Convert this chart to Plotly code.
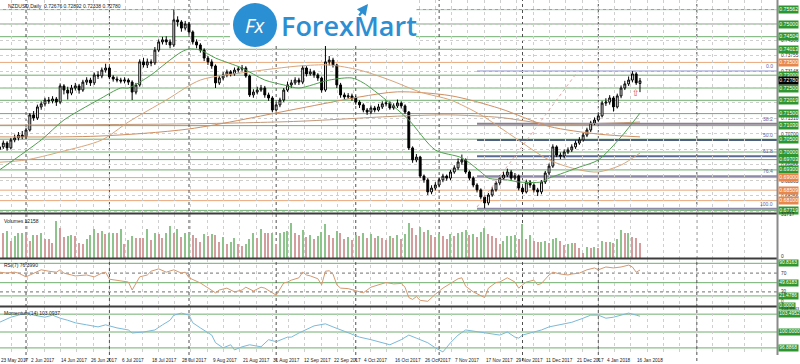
import plotly.graph_objects as go
from plotly.subplots import make_subplots

# ---------------- data ----------------
bar_idx = list(range(170))

opens = [0.7010, 0.7020, 0.7035, 0.7016, 0.7047, 0.7055, 0.7066, 0.7059, 0.7086, 0.7145,
         0.7133, 0.7176, 0.7188, 0.7203, 0.7199, 0.7207, 0.7195, 0.7258, 0.7242, 0.7230,
         0.7250, 0.7258, 0.7242, 0.7273, 0.7281, 0.7270, 0.7301, 0.7297, 0.7320, 0.7328,
         0.7293, 0.7285, 0.7281, 0.7277, 0.7281, 0.7273, 0.7234, 0.7262, 0.7352, 0.7340,
         0.7352, 0.7348, 0.7398, 0.7430, 0.7438, 0.7430, 0.7418, 0.7516, 0.7508, 0.7484,
         0.7500, 0.7469, 0.7430, 0.7418, 0.7398, 0.7367, 0.7352, 0.7336, 0.7270, 0.7289,
         0.7301, 0.7313, 0.7305, 0.7320, 0.7324, 0.7328, 0.7297, 0.7223, 0.7234, 0.7242,
         0.7250, 0.7223, 0.7211, 0.7164, 0.7184, 0.7203, 0.7242, 0.7262, 0.7270, 0.7281,
         0.7273, 0.7328, 0.7305, 0.7313, 0.7301, 0.7289, 0.7242, 0.7352, 0.7359, 0.7340,
         0.7262, 0.7223, 0.7215, 0.7219, 0.7211, 0.7195, 0.7184, 0.7164, 0.7156, 0.7172,
         0.7164, 0.7176, 0.7188, 0.7191, 0.7172, 0.7180, 0.7191, 0.7180, 0.7156, 0.7016,
         0.6969, 0.6980, 0.6906, 0.6891, 0.6844, 0.6859, 0.6871, 0.6891, 0.6906, 0.6898,
         0.6922, 0.6938, 0.6961, 0.6969, 0.6922, 0.6898, 0.6871, 0.6852, 0.6824, 0.6801,
         0.6832, 0.6852, 0.6879, 0.6898, 0.6910, 0.6922, 0.6898, 0.6906, 0.6859, 0.6844,
         0.6883, 0.6871, 0.6852, 0.6844, 0.6883, 0.6918, 0.6945, 0.7020, 0.6988, 0.6984,
         0.7000, 0.7008, 0.7020, 0.7035, 0.7047, 0.7066, 0.7086, 0.7113, 0.7125, 0.7141,
         0.7191, 0.7195, 0.7211, 0.7176, 0.7219, 0.7250, 0.7266, 0.7281, 0.7305, 0.72676]

closes = [0.7020, 0.7035, 0.7016, 0.7047, 0.7055, 0.7066, 0.7059, 0.7086, 0.7145, 0.7133,
          0.7176, 0.7188, 0.7203, 0.7199, 0.7207, 0.7195, 0.7258, 0.7242, 0.7230, 0.7250,
          0.7258, 0.7242, 0.7273, 0.7281, 0.7270, 0.7301, 0.7297, 0.7320, 0.7328, 0.7293,
          0.7285, 0.7281, 0.7277, 0.7281, 0.7273, 0.7234, 0.7262, 0.7352, 0.7340, 0.7352,
          0.7348, 0.7398, 0.7430, 0.7438, 0.7430, 0.7418, 0.7516, 0.7508, 0.7484, 0.7500,
          0.7469, 0.7430, 0.7418, 0.7398, 0.7367, 0.7352, 0.7336, 0.7270, 0.7289, 0.7301,
          0.7313, 0.7305, 0.7320, 0.7324, 0.7328, 0.7297, 0.7223, 0.7234, 0.7242, 0.7250,
          0.7223, 0.7211, 0.7164, 0.7184, 0.7203, 0.7242, 0.7262, 0.7270, 0.7281, 0.7273,
          0.7328, 0.7305, 0.7313, 0.7301, 0.7289, 0.7242, 0.7352, 0.7359, 0.7340, 0.7262,
          0.7223, 0.7215, 0.7219, 0.7211, 0.7195, 0.7184, 0.7164, 0.7156, 0.7172, 0.7164,
          0.7176, 0.7188, 0.7191, 0.7172, 0.7180, 0.7191, 0.7180, 0.7156, 0.7016, 0.6969,
          0.6980, 0.6906, 0.6891, 0.6844, 0.6859, 0.6871, 0.6891, 0.6906, 0.6898, 0.6922,
          0.6938, 0.6961, 0.6969, 0.6922, 0.6898, 0.6871, 0.6852, 0.6824, 0.6801, 0.6832,
          0.6852, 0.6879, 0.6898, 0.6910, 0.6922, 0.6898, 0.6906, 0.6859, 0.6844, 0.6883,
          0.6871, 0.6852, 0.6844, 0.6883, 0.6918, 0.6945, 0.7020, 0.6988, 0.6984, 0.7000,
          0.7008, 0.7020, 0.7035, 0.7047, 0.7066, 0.7086, 0.7113, 0.7125, 0.7141, 0.7191,
          0.7195, 0.7211, 0.7176, 0.7219, 0.7250, 0.7266, 0.7281, 0.7305, 0.7270, 0.72780]

highs = [0.7032, 0.7045, 0.7042, 0.7055, 0.7068, 0.7078, 0.7082, 0.7095, 0.7152, 0.7160,
         0.7185, 0.7198, 0.7212, 0.7215, 0.7218, 0.7215, 0.7268, 0.7265, 0.7255, 0.7262,
         0.7270, 0.7266, 0.7282, 0.7292, 0.7290, 0.7310, 0.7315, 0.7330, 0.7345, 0.7335,
         0.7300, 0.7295, 0.7290, 0.7292, 0.7288, 0.7280, 0.7270, 0.7362, 0.7368, 0.7365,
         0.7362, 0.7410, 0.7440, 0.7450, 0.7452, 0.7440, 0.7556, 0.7530, 0.7515, 0.7512,
         0.7508, 0.7475, 0.7440, 0.7425, 0.7405, 0.7375, 0.7362, 0.7342, 0.7298, 0.7312,
         0.7322, 0.7320, 0.7330, 0.7336, 0.7340, 0.7335, 0.7302, 0.7245, 0.7255, 0.7262,
         0.7258, 0.7232, 0.7218, 0.7195, 0.7212, 0.7250, 0.7275, 0.7282, 0.7292, 0.7290,
         0.7338, 0.7335, 0.7325, 0.7320, 0.7308, 0.7295, 0.7434, 0.7375, 0.7368, 0.7345,
         0.7270, 0.7232, 0.7230, 0.7228, 0.7220, 0.7202, 0.7190, 0.7172, 0.7182, 0.7180,
         0.7188, 0.7198, 0.7202, 0.7198, 0.7190, 0.7205, 0.7198, 0.7186, 0.7160, 0.7022,
         0.6992, 0.6985, 0.6912, 0.6898, 0.6870, 0.6882, 0.6900, 0.6915, 0.6912, 0.6930,
         0.6948, 0.6975, 0.6990, 0.6975, 0.6928, 0.6905, 0.6878, 0.6858, 0.6830, 0.6840,
         0.6862, 0.6888, 0.6908, 0.6922, 0.6935, 0.6930, 0.6918, 0.6912, 0.6866, 0.6892,
         0.6890, 0.6878, 0.6860, 0.6890, 0.6926, 0.6955, 0.7030, 0.7026, 0.6998, 0.7010,
         0.7018, 0.7030, 0.7045, 0.7058, 0.7075, 0.7095, 0.7122, 0.7135, 0.7150, 0.7200,
         0.7210, 0.7222, 0.7218, 0.7228, 0.7260, 0.7278, 0.7295, 0.7316, 0.7312, 0.72892]

lows = [0.7000, 0.7012, 0.7005, 0.7010, 0.7038, 0.7045, 0.7050, 0.7052, 0.7080, 0.7122,
        0.7125, 0.7165, 0.7178, 0.7188, 0.7190, 0.7180, 0.7188, 0.7225, 0.7205, 0.7222,
        0.7240, 0.7228, 0.7235, 0.7262, 0.7258, 0.7262, 0.7285, 0.7288, 0.7310, 0.7285,
        0.7275, 0.7272, 0.7268, 0.7268, 0.7262, 0.7203, 0.7225, 0.7255, 0.7330, 0.7328,
        0.7335, 0.7340, 0.7390, 0.7420, 0.7418, 0.7405, 0.7410, 0.7490, 0.7470, 0.7475,
        0.7460, 0.7420, 0.7405, 0.7388, 0.7355, 0.7340, 0.7325, 0.7250, 0.7262, 0.7280,
        0.7292, 0.7295, 0.7298, 0.7310, 0.7315, 0.7290, 0.7215, 0.7212, 0.7225, 0.7235,
        0.7212, 0.7200, 0.7155, 0.7158, 0.7175, 0.7195, 0.7235, 0.7250, 0.7262, 0.7262,
        0.7265, 0.7295, 0.7298, 0.7290, 0.7278, 0.7232, 0.7235, 0.7338, 0.7330, 0.7250,
        0.7212, 0.7205, 0.7208, 0.7200, 0.7185, 0.7172, 0.7155, 0.7145, 0.7148, 0.7155,
        0.7158, 0.7168, 0.7178, 0.7165, 0.7165, 0.7172, 0.7170, 0.7148, 0.7008, 0.6958,
        0.6960, 0.6898, 0.6880, 0.6832, 0.6835, 0.6850, 0.6862, 0.6882, 0.6888, 0.6890,
        0.6915, 0.6930, 0.6950, 0.6915, 0.6890, 0.6862, 0.6842, 0.6815, 0.6780, 0.6792,
        0.6825, 0.6845, 0.6870, 0.6890, 0.6902, 0.6888, 0.6890, 0.6850, 0.6835, 0.6838,
        0.6860, 0.6842, 0.6828, 0.6835, 0.6875, 0.6910, 0.6938, 0.6980, 0.6972, 0.6975,
        0.6992, 0.7000, 0.7012, 0.7028, 0.7040, 0.7058, 0.7078, 0.7105, 0.7118, 0.7135,
        0.7180, 0.7185, 0.7158, 0.7170, 0.7210, 0.7242, 0.7258, 0.7272, 0.7262, 0.72338]

volumes = [21150, 18690, 19920, 12540, 16230, 18200, 18690, 16720, 12540, 16720,
           16720, 18690, 14260, 13770, 11310, 27290, 22370, 15490, 16230, 16720,
           16230, 11310, 10080, 13770, 16720, 21150, 18690, 19920, 17460, 18200,
           18300, 18100, 21150, 10570, 13030, 16230, 15100, 15000, 14900, 21150,
           13280, 18690, 17460, 14510, 18200, 23600, 18100, 21150, 15490, 18200,
           18300, 16720, 14510, 12050, 17460, 16230, 17460, 17300, 12050, 15740,
           10080, 12050, 15000, 10080, 8850, 10080, 13770, 18690, 15000, 21150,
           18690, 18600, 18700, 10080, 18200, 19180, 19920, 26060, 18690, 17000,
           21000, 15500, 17000, 14000, 16500, 19000, 25000, 17000, 15000, 20000,
           18500, 14000, 15500, 13500, 17000, 16000, 18500, 15000, 17500, 14500,
           16000, 15000, 13000, 16500, 15000, 17000, 14000, 18000, 26000, 22000,
           17000, 23000, 19000, 21000, 17000, 15500, 18000, 16500, 14000, 17500,
           16000, 18500, 19500, 21000, 17000, 18000, 15500, 19000, 22000, 18000,
           16000, 14500, 10080, 12540, 16230, 16300, 16720, 14000, 24840, 13770,
           16720, 12540, 12050, 12100, 12540, 11310, 13770, 15000, 12540, 9340,
           10570, 11310, 10820, 7620, 3930, 8360, 7620, 8360, 7620, 12540,
           12050, 12100, 11310, 13770, 20420, 18200, 18690, 15490, 15000, 11310]

ma_fast_x = [0, 11, 17, 26, 32, 34, 40, 44, 48, 50, 53, 57, 64, 70, 75, 79, 87, 93, 96,
             102, 108, 115, 122, 127, 129, 134, 137, 143, 145, 148, 153, 158, 164, 169]
ma_fast_v = [0.6930, 0.7047, 0.7125, 0.7203, 0.7250, 0.7250, 0.7301, 0.7348, 0.7391, 0.7402,
             0.7398, 0.7367, 0.7328, 0.7281, 0.7262, 0.7250, 0.7281, 0.7289, 0.7270,
             0.7203, 0.7125, 0.7008, 0.6977, 0.6922, 0.6898, 0.6891, 0.6883, 0.6883, 0.6898,
             0.6914, 0.6941, 0.6969, 0.7059, 0.7152]

ma_mid_x = [0, 7, 16, 27, 34, 44, 53, 66, 79, 87, 95, 103, 111, 119, 127, 135, 145, 153, 158, 164, 169]
ma_mid_v = [0.6960, 0.6969, 0.7000, 0.7047, 0.7117, 0.7203, 0.7281, 0.7313, 0.7336, 0.7340,
            0.7320, 0.7281, 0.7234, 0.7203, 0.7145, 0.7066, 0.6969, 0.6930, 0.6922, 0.6949, 0.6996]

ma_slow_x = [0, 26, 50, 79, 95, 105, 119, 132, 145, 158, 169]
ma_slow_v = [0.7059, 0.7062, 0.7090, 0.7170, 0.7215, 0.7235, 0.7220, 0.7170, 0.7100, 0.7070, 0.7059]

ma_long_x = [0, 50, 79, 105, 119, 132, 145, 169]
ma_long_v = [0.7105, 0.7110, 0.7120, 0.7140, 0.7145, 0.7135, 0.7110, 0.7117]

rsi_x = [0, 2, 4, 5, 7, 9, 11, 13, 15, 16, 17, 19, 20, 23, 25, 27, 28, 29, 32, 34, 35, 36, 37, 39,
         40, 42, 44, 46, 48, 49, 50, 53, 55, 57, 58, 60, 62, 64, 65, 67, 69, 70, 72, 73, 75, 76, 77,
         79, 80, 81, 82, 84, 85, 86, 87, 88, 89, 90, 92, 94, 96, 98, 100, 102, 104, 106, 107, 108,
         109, 110, 111, 113, 115, 117, 119, 121, 122, 123, 125, 127, 128, 129, 131, 132, 134, 136,
         137, 138, 139, 141, 142, 143, 145, 146, 148, 150, 151, 153, 155, 157, 158, 160, 162, 164,
         166, 167, 168, 169]
rsi_v = [72, 70, 72, 70, 62, 70, 77, 74, 72, 77, 70, 66, 64, 66, 62, 70, 72, 57, 53, 51, 34, 49, 62, 66,
         74, 79, 72, 77, 70, 72, 60, 49, 38, 28, 34, 38, 30, 34, 40, 32, 40, 38, 28, 23, 49, 51, 55,
         60, 72, 66, 64, 58, 45, 74, 75, 68, 45, 38, 37, 33, 28, 40, 45, 50, 47, 48, 40, 18,
         14, 20, 12, 10, 25, 38, 48, 58, 60, 42, 30, 22, 18, 38, 50, 51, 60, 51,
         38, 45, 51, 55, 45, 48, 66, 72, 68, 66, 68, 70, 77, 81, 77, 83, 81, 83,
         87, 83, 72, 76.399]

mom_x = [0, 3, 5, 7, 9, 12, 14, 16, 18, 20, 23, 26, 28, 31, 34, 35, 38, 41, 43, 45, 46, 48, 50, 51,
         53, 56, 57, 59, 61, 62, 64, 66, 69, 71, 73, 76, 77, 79, 83, 86, 88, 92, 95, 98, 101, 103,
         106, 108, 110, 113, 115, 117, 119, 121, 123, 128, 132, 134, 136, 137, 138, 140, 143, 145,
         148, 150, 151, 154, 156, 158, 160, 162, 164, 166, 168, 169]
mom_v = [101.9, 102.9, 103.3, 103.7, 103.3, 102.9, 103.3, 102.7, 102.3, 101.8, 101.4, 101.0, 101.4,
         100.8, 100.4, 99.8, 100.0, 100.4, 101.4, 102.3, 103.3, 103.7, 103.3, 101.8, 100.8, 99.4,
         97.9, 96.9, 97.5, 96.5, 97.1, 97.5, 97.1, 98.5, 98.1, 99.0, 99.0, 99.8, 101.2, 101.6, 101.0,
         99.8, 99.0, 98.5, 97.9, 97.5, 98.5, 99.4, 98.8, 97.9, 96.9, 96.1, 97.9, 99.4, 100.4, 99.8,
         99.4, 100.0, 99.0, 98.8, 99.4, 99.8, 100.4, 101.0, 101.4, 101.8, 101.9, 102.7, 103.3, 103.3,
         102.7, 102.9, 103.3, 103.7, 103.3, 103.0937]

trend_x = [126, 152.5]
trend_v = [0.6785, 0.7313]

fib_high = 0.7316
fib_low = 0.6778
fib_levels = [0.0, 38.2, 50.0, 61.8, 76.4, 100.0]
fib_start = 126

green_levels = [0.75562, 0.75000, 0.74504, 0.74013, 0.73000, 0.72500, 0.72019, 0.71500,
                0.71030, 0.70500, 0.70000, 0.69703, 0.69300, 0.67719]
orange_levels = [0.73500, 0.69000, 0.68509, 0.68100]
price_texts = [0.74366, 0.73755, 0.73148, 0.71310, 0.70700, 0.69455, 0.68865, 0.68256]
price_grid = [0.75579, 0.74971, 0.74363, 0.73755, 0.73147, 0.72539, 0.71931, 0.71323,
              0.70715, 0.70107, 0.69499, 0.68891, 0.68283, 0.67675]
current_price = 0.72780

rsi_green = [90.8163, 49.6183, 21.4786]
rsi_dotted = [70, 30]
mom_green = [103.4952, 100.0, 96.8868]

separators = [7, 29, 50, 73, 94, 116, 138, 158, 184]
date_idx = [0, 8, 16, 24, 32, 40, 48, 56, 64, 72, 80, 88, 96, 104, 112, 120, 128, 136, 144, 152, 160, 168]
date_text = ["23 May 2017", "2 Jun 2017", "14 Jun 2017", "26 Jun 2017", "6 Jul 2017", "18 Jul 2017",
             "28 Jul 2017", "9 Aug 2017", "21 Aug 2017", "31 Aug 2017", "12 Sep 2017", "22 Sep 2017",
             "4 Oct 2017", "16 Oct 2017", "26 Oct 2017", "7 Nov 2017", "17 Nov 2017", "29 Nov 2017",
             "11 Dec 2017", "21 Dec 2017", "4 Jan 2018", "16 Jan 2018"]

# ---------------- layout geometry ----------------
W, H = 800, 364
MR, MB = 23, 9
PW, PH = W - MR, H - MB


def pxx(px):
    return px / PW


def pxy(py):
    return (PH - py) / PH


X_RANGE = [0.132, 205.15]
GREEN = "#6fae6f"
ORANGE = "#e8a77a"
BOX_GREEN = "#2f962f"
BOX_ORANGE = "#e8874c"
FONT = "Liberation Sans"

fig = make_subplots(rows=4, cols=1, shared_xaxes=True, vertical_spacing=0)

fig.add_trace(go.Candlestick(
    x=bar_idx, open=opens, high=highs, low=lows, close=closes,
    increasing=dict(line=dict(color="#000000", width=1), fillcolor="#ffffff"),
    decreasing=dict(line=dict(color="#000000", width=1), fillcolor="#000000"),
    whiskerwidth=0, hoverinfo="skip", showlegend=False), row=1, col=1)

for xs, vs, col in [(ma_long_x, ma_long_v, "#c39a7a"), (ma_slow_x, ma_slow_v, "#cf8f62"),
                    (ma_mid_x, ma_mid_v, "#d9a57a"), (ma_fast_x, ma_fast_v, "#4f9f4f")]:
    fig.add_trace(go.Scatter(x=xs, y=vs, mode="lines", line=dict(color=col, width=1, shape="spline", smoothing=0.8),
                             hoverinfo="skip", showlegend=False), row=1, col=1)

fig.add_trace(go.Scatter(x=trend_x, y=trend_v, mode="lines", line=dict(color="#e2a4a4", width=1, dash="dot"),
                         hoverinfo="skip", showlegend=False), row=1, col=1)

vol_colors = ["#8cc48c"] + ["#8cc48c" if volumes[i] > volumes[i - 1] else "#d49c9c" for i in range(1, len(volumes))]
fig.add_trace(go.Bar(x=bar_idx, y=volumes, marker=dict(color=vol_colors, line=dict(width=0)), width=0.35,
                     hoverinfo="skip", showlegend=False), row=2, col=1)

fig.add_trace(go.Scatter(x=rsi_x, y=rsi_v, mode="lines", line=dict(color="#d39a72", width=1),
                         hoverinfo="skip", showlegend=False), row=3, col=1)
fig.add_trace(go.Scatter(x=mom_x, y=mom_v, mode="lines", line=dict(color="#7cb9d8", width=1),
                         hoverinfo="skip", showlegend=False), row=4, col=1)

shapes = []
for lv in green_levels:
    shapes.append(dict(type="line", xref="paper", yref="y", x0=0, x1=1, y0=lv, y1=lv,
                       line=dict(color=GREEN, width=1), layer="below"))
for lv in orange_levels:
    shapes.append(dict(type="line", xref="paper", yref="y", x0=0, x1=1, y0=lv, y1=lv,
                       line=dict(color=ORANGE, width=1), layer="below"))
fib_cols = {0.0: "#6f78c0", 38.2: "#8a8090", 50.0: "#4f5f80", 61.8: "#5a6a90", 76.4: "#8c8aa8", 100.0: "#8c8aa8"}
for f in fib_levels:
    lv = fib_high - (fib_high - fib_low) * f / 100.0
    shapes.append(dict(type="line", xref="x", yref="y", x0=fib_start, x1=X_RANGE[1], y0=lv, y1=lv,
                       line=dict(color=fib_cols[f], width=1 if f == 0.0 else 2), layer="below"))
for lv in rsi_green:
    shapes.append(dict(type="line", xref="paper", yref="y3", x0=0, x1=1, y0=lv, y1=lv,
                       line=dict(color=GREEN, width=1), layer="below"))
for lv in rsi_dotted:
    shapes.append(dict(type="line", xref="paper", yref="y3", x0=0, x1=1, y0=lv, y1=lv,
                       line=dict(color="#707070", width=1, dash="dot"), layer="below"))
for lv in mom_green:
    shapes.append(dict(type="line", xref="paper", yref="y4", x0=0, x1=1, y0=lv, y1=lv,
                       line=dict(color=GREEN, width=1), layer="below"))
for s in separators:
    shapes.append(dict(type="line", xref="x", yref="paper", x0=s, x1=s, y0=pxy(361), y1=1,
                       line=dict(color="#505050", width=1, dash="dot"), layer="below"))
for py in [213.5, 258.5, 306.5]:
    shapes.append(dict(type="line", xref="paper", yref="paper", x0=0, x1=1, y0=pxy(py), y1=pxy(py),
                       line=dict(color="#3c3c3c", width=2)))
shapes.append(dict(type="line", xref="paper", yref="paper", x0=pxx(777.5), x1=pxx(777.5), y0=0, y1=1,
                   line=dict(color="#8a8a8a", width=2)))
shapes.append(dict(type="rect", xref="paper", yref="paper", x0=pxx(230), x1=pxx(416), y0=pxy(46), y1=1,
                   fillcolor="white", line=dict(width=0)))
shapes.append(dict(type="circle", xref="paper", yref="paper", x0=pxx(233), x1=pxx(277), y0=pxy(47), y1=pxy(3),
                   fillcolor="#2b8fd4", line=dict(width=0)))

ann = []
small = dict(family=FONT, size=5, color="#202020")


def box(yref, val, text, bg, fg="white", size=5.2):
    ann.append(dict(xref="paper", yref=yref, x=1, y=val, xanchor="left", yanchor="middle", xshift=0.5,
                    text=text, showarrow=False, bgcolor=bg, borderpad=0.3,
                    font=dict(family=FONT, size=size, color=fg)))


def plain(yref, val, text, size=4.8):
    ann.append(dict(xref="paper", yref=yref, x=1, y=val, xanchor="left", yanchor="middle", xshift=1.5,
                    text=text, showarrow=False, font=dict(family=FONT, size=size, color="#303030")))


for lv in price_texts:
    plain("y", lv, "%.5f" % lv)
for lv in green_levels:
    box("y", lv, "%.5f" % lv, BOX_GREEN)
for lv in orange_levels:
    box("y", lv, "%.5f" % lv, BOX_ORANGE)
box("y", current_price, "%.5f" % current_price, "#000000")

for f in fib_levels:
    lv = fib_high - (fib_high - fib_low) * f / 100.0
    ann.append(dict(xref="paper", yref="y", x=1, y=lv, xanchor="right", yanchor="bottom", xshift=-2,
                    text="%.1f" % f, showarrow=False, font=dict(family=FONT, size=5, color="#5a64a8")))

plain("y2", 31717, "31717")
plain("y2", 900, "0")
for lv in rsi_green:
    box("y3", lv, "%.4f" % lv, BOX_GREEN, size=4.9)
plain("y3", 70, "70")
plain("y3", 31, "30", size=4.5)
plain("y3", 9, "0", size=4.5)
box("y3", 1, "0.0000", BOX_GREEN, size=4.9)
plain("y4", 104.62, "104.8943", size=4.4)
for lv in mom_green:
    box("y4", lv, "%.4f" % lv, BOX_GREEN, size=4.9)

ann.append(dict(xref="paper", yref="paper", x=pxx(6), y=pxy(1), xanchor="left", yanchor="top", showarrow=False,
                text="NZDUSD,Daily  0.72676 0.72892 0.72338 0.72780", font=small))
ann.append(dict(xref="paper", yref="paper", x=pxx(2), y=pxy(216), xanchor="left", yanchor="top", showarrow=False,
                text="Volumes 12158", font=small))
ann.append(dict(xref="paper", yref="paper", x=pxx(2), y=pxy(260), xanchor="left", yanchor="top", showarrow=False,
                text="RSI(7) 76.3990", font=small))
ann.append(dict(xref="paper", yref="paper", x=pxx(2), y=pxy(308), xanchor="left", yanchor="top", showarrow=False,
                text="Momentum(14) 103.0937", font=small))

for i, t in zip(date_idx, date_text):
    ann.append(dict(xref="x", yref="paper", x=max(i, 0.2), y=pxy(356), xanchor="left", yanchor="top", xshift=-1,
                    text=t, showarrow=False, font=dict(family=FONT, size=4.7, color="#202020")))

ann.append(dict(xref="x", yref="y", x=168, y=0.7232, text="⇧", showarrow=False,
                font=dict(family="DejaVu Sans", size=9, color="#e04848")))

ann.append(dict(xref="paper", yref="paper", x=pxx(255), y=pxy(25), text="<i>Fx</i>", showarrow=False,
                xanchor="center", yanchor="middle", font=dict(family="Open Sans", size=20, color="white")))
ann.append(dict(xref="paper", yref="paper", x=pxx(279), y=pxy(25), text="ForexMart", showarrow=False,
                xanchor="left", yanchor="middle", font=dict(family="Open Sans", size=27, color="#2d8fd2", weight=600)))
ann.append(dict(xref="paper", yref="paper", x=pxx(368), y=pxy(4), ax=-10, ay=13, axref="pixel", ayref="pixel",
                text="", showarrow=True, arrowhead=2, arrowsize=1, arrowwidth=2.2, arrowcolor="#2d8fd2"))

grid_x = [158 + 4.3 * k for k in range(-37, 12)]

fig.update_layout(
    width=W, height=H, margin=dict(l=0, r=MR, t=0, b=MB),
    paper_bgcolor="white", plot_bgcolor="white",
    shapes=shapes, annotations=ann, showlegend=False, bargap=0,
    yaxis=dict(domain=[pxy(213), 1], range=[0.67617, 0.759375]),
    yaxis2=dict(domain=[pxy(258), pxy(214)], range=[0, 32450]),
    yaxis3=dict(domain=[pxy(306), pxy(259)], range=[0, 100]),
    yaxis4=dict(domain=[0, pxy(307)], range=[95.50, 104.8943]),
)
fig.update_xaxes(range=X_RANGE, showticklabels=False, ticks="", tickvals=grid_x, showgrid=True,
                 gridcolor="#cfcfcf", griddash="dot", gridwidth=1, zeroline=False, showline=False,
                 rangeslider_visible=False)
fig.update_yaxes(showticklabels=False, ticks="", zeroline=False, showline=False, showgrid=False)
fig.update_layout(yaxis=dict(showgrid=True, tickvals=price_grid, gridcolor="#cfcfcf", griddash="dot"))

fig.write_html("out.html", config={"displayModeBar": False},
               post_script="document.body.style.margin='0';document.body.style.padding='0';"
                           "document.body.style.overflow='hidden';")
